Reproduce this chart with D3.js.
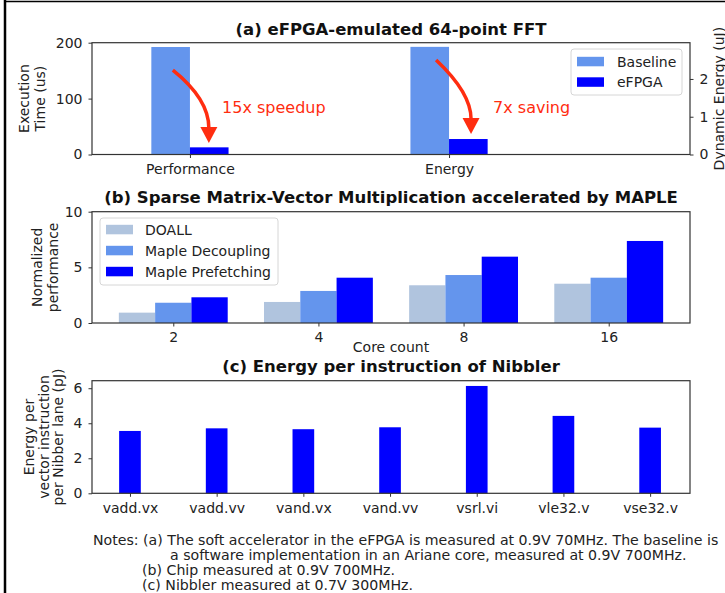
<!DOCTYPE html>
<html>
<head>
<meta charset="utf-8">
<script src="https://cdn.jsdelivr.net/npm/d3@7/dist/d3.min.js"></script>
<style>
body { margin: 0; background: #fff; }
svg text { font-family: "DejaVu Sans", sans-serif; fill: #222; }
</style>
</head>
<body>
<svg id="chart" width="725" height="593"></svg>
<script>

// (a) eFPGA FFT
var fftCategories = ["Performance", "Energy"];
var fftSeries     = ["Baseline", "eFPGA"];
var fftTime       = [192.3, 12.8];   // us, baseline / eFPGA
var fftEnergy     = [2.85, 0.41];    // uJ, baseline / eFPGA
var fftLabels     = ["15x speedup", "7x saving"];

// (b) SpMV with MAPLE
var spmvCores       = ["2", "4", "8", "16"];
var spmvSeries      = ["DOALL", "Maple Decoupling", "Maple Prefetching"];
var spmvDoall       = [0.93, 1.89, 3.39, 3.53];
var spmvDecoupling  = [1.82, 2.88, 4.31, 4.07];
var spmvPrefetching = [2.31, 4.07, 5.96, 7.37];

// (c) Nibbler
var nibblerInstr  = ["vadd.vx", "vadd.vv", "vand.vx", "vand.vv", "vsrl.vi", "vle32.v", "vse32.v"];
var nibblerEnergy = [3.56, 3.71, 3.66, 3.77, 6.13, 4.42, 3.75];

var notesLines = [
    "Notes: (a) The soft accelerator in the eFPGA is measured at 0.9V 70MHz. The baseline is",
    "a software implementation in an Ariane core, measured at 0.9V 700MHz.",
    "(b) Chip measured at 0.9V 700MHz.",
    "(c) Nibbler measured at 0.7V 300MHz."
];

var svg = d3.select("#chart");
var LEFT = 92, RIGHT = 690;
var SPINE = "#333";
var RED = "#ff2d10";
var intFmt = d3.format("d");

function styleAxis(g) {
    g.select(".domain").remove();
    g.selectAll("text").attr("font-size", 14).attr("font-family", "DejaVu Sans").style("fill", "#222");
    g.selectAll("line").attr("stroke", SPINE);
}

function frame(top, bottom) {
    svg.append("rect")
	.attr("x", LEFT).attr("y", top)
	.attr("width", RIGHT - LEFT).attr("height", bottom - top)
	.attr("fill", "none").attr("stroke", SPINE).attr("stroke-width", 1.2);
}

function title(txt, y) {
    svg.append("text")
	.attr("x", (LEFT + RIGHT) / 2).attr("y", y)
	.attr("text-anchor", "middle")
	.attr("font-size", 16.5).attr("font-weight", "bold")
	.style("fill", "#111")
	.text(txt);
}

function ylabel(lines, x, y, step) {
    var t = svg.append("text")
	.attr("transform", "translate(" + x + "," + y + ") rotate(-90)")
	.attr("text-anchor", "middle")
	.attr("font-size", 14);
    lines.forEach(function(l, i) {
	t.append("tspan").attr("x", 0).attr("y", i * step).text(l);
    });
}

function legend(x, y, w, h, names, colors, textX, rowY) {
    svg.append("rect")
	.attr("x", x).attr("y", y).attr("width", w).attr("height", h)
	.attr("rx", 3)
	.attr("fill", "#fff").attr("fill-opacity", 0.85)
	.attr("stroke", "#d6d6d6");
    names.forEach(function(n, i) {
	svg.append("rect")
	    .attr("x", x + 6).attr("y", rowY[i] - 4.7)
	    .attr("width", 27).attr("height", 9.5)
	    .attr("fill", colors[i]);
	svg.append("text")
	    .attr("x", textX).attr("y", rowY[i] + 5)
	    .attr("font-size", 14)
	    .text(n);
    });
}

// ---------- (a) ----------
var aTop = 42.7, aBot = 154.5;
var ax  = d3.scaleLinear().domain([-0.378, 1.93]).range([LEFT, RIGHT]);
var ayL = d3.scaleLinear().domain([0, 200]).range([aBot, aTop]);
var ayR = d3.scaleLinear().domain([0, 2.96]).range([aBot, aTop]);
var aW  = 0.149;

var fftRows = [
    { cat: 0, vals: fftTime,   y: ayL },
    { cat: 1, vals: fftEnergy, y: ayR }
];
var fftColors = ["#6495ED", "#0000FF"];

fftRows.forEach(function(r) {
    r.vals.forEach(function(v, s) {
	var x0 = r.cat + (s - 1) * aW;
	svg.append("rect")
	    .attr("x", ax(x0)).attr("width", ax(x0 + aW) - ax(x0))
	    .attr("y", r.y(v)).attr("height", aBot - r.y(v))
	    .attr("fill", fftColors[s]);
    });
});

svg.append("g").attr("transform", "translate(" + LEFT + ",0)")
    .call(d3.axisLeft(ayL).tickValues([0, 100, 200]).tickFormat(intFmt).tickSize(3.5).tickPadding(6))
    .call(styleAxis);
svg.append("g").attr("transform", "translate(" + RIGHT + ",0)")
    .call(d3.axisRight(ayR).tickValues([0, 1, 2]).tickFormat(intFmt).tickSize(3.5).tickPadding(6))
    .call(styleAxis);
svg.append("g").attr("transform", "translate(0," + aBot + ")")
    .call(d3.axisBottom(ax).tickValues([0, 1]).tickFormat(function(i) { return fftCategories[i]; })
	  .tickSize(3.5).tickPadding(6))
    .call(styleAxis);
frame(aTop, aBot);

// arrows: x is offset from the category, y in left-axis units
var fftArrows = [
    { start: [-0.066, 151], ctrl: [0.073, 99.3], end: [0.073, 49.2], tip: 20.6, label: [0.124, 85] },
    { start: [-0.05, 169],  ctrl: [0.085, 110],  end: [0.085, 65.3], tip: 36.7, label: [0.17, 85] }
];
fftArrows.forEach(function(a, i) {
    var p = d3.path();
    p.moveTo(ax(i + a.start[0]), ayL(a.start[1]));
    p.quadraticCurveTo(ax(i + a.ctrl[0]), ayL(a.ctrl[1]), ax(i + a.end[0]), ayL(a.end[1]) + 1);
    svg.append("path").attr("d", p.toString())
	.attr("fill", "none").attr("stroke", RED).attr("stroke-width", 3.5);
    var ex = ax(i + a.end[0]), ey = ayL(a.end[1]);
    svg.append("polygon")
	.attr("points", [[ex - 8.5, ey], [ex + 8.5, ey], [ex, ayL(a.tip)]].join(" "))
	.attr("fill", RED);
    svg.append("text")
	.attr("x", ax(i + a.label[0])).attr("y", ayL(a.label[1]) + 6)
	.attr("font-family", "Liberation Sans, Arial, sans-serif")
	.attr("font-size", 16)
	.style("fill", RED)
	.text(fftLabels[i]);
});

legend(571, 49, 111, 46, fftSeries, fftColors, 617, [61.5, 82]);
title("(a) eFPGA-emulated 64-point FFT", 35);
ylabel(["Execution", "Time (us)"], 29, (aTop + aBot) / 2, 15.5);
svg.append("text")
    .attr("transform", "translate(724," + ((aTop + aBot) / 2) + ") rotate(-90)")
    .attr("text-anchor", "middle").attr("font-size", 14)
    .text("Dynamic Energy (uJ)");

// ---------- (b) ----------
var bTop = 211.7, bBot = 323;
var bx = d3.scaleLinear().domain([-0.56, 3.56]).range([LEFT, RIGHT]);
var by = d3.scaleLinear().domain([0, 10]).range([bBot, bTop]);
var bW = 0.25;
var spmvData   = [spmvDoall, spmvDecoupling, spmvPrefetching];
var spmvColors = ["#B0C4DE", "#6495ED", "#0000FF"];

spmvData.forEach(function(vals, s) {
    svg.append("g").selectAll("rect")
	.data(vals)
	.enter()
	.append("rect")
	.attr("x", function(d, i) { return bx(i + (s - 1.5) * bW); })
	.attr("width", bx(bW) - bx(0))
	.attr("y", function(d) { return by(d); })
	.attr("height", function(d) { return bBot - by(d); })
	.attr("fill", spmvColors[s]);
});

svg.append("g").attr("transform", "translate(" + LEFT + ",0)")
    .call(d3.axisLeft(by).tickValues([0, 5, 10]).tickFormat(intFmt).tickSize(3.5).tickPadding(6))
    .call(styleAxis);
svg.append("g").attr("transform", "translate(0," + bBot + ")")
    .call(d3.axisBottom(bx).tickValues([0, 1, 2, 3]).tickFormat(function(i) { return spmvCores[i]; })
	  .tickSize(3.5).tickPadding(6))
    .call(styleAxis);
frame(bTop, bBot);

legend(100, 218, 178, 67, spmvSeries, spmvColors, 145, [229.5, 250.5, 271.5]);
title("(b) Sparse Matrix-Vector Multiplication accelerated by MAPLE", 203);
ylabel(["Normalized", "performance"], 42, (bTop + bBot) / 2, 15.5);
svg.append("text")
    .attr("x", (LEFT + RIGHT) / 2).attr("y", 352)
    .attr("text-anchor", "middle").attr("font-size", 14)
    .text("Core count");

// ---------- (c) ----------
var cTop = 380.7, cBot = 493.3;
var cx = d3.scaleLinear().domain([-0.438, 6.46]).range([LEFT, RIGHT]);
var cy = d3.scaleLinear().domain([0, 6.43]).range([cBot, cTop]);
var cW = 0.25;

svg.append("g").selectAll("rect")
    .data(nibblerEnergy)
    .enter()
    .append("rect")
    .attr("x", function(d, i) { return cx(i - cW / 2); })
    .attr("width", cx(cW) - cx(0))
    .attr("y", function(d) { return cy(d); })
    .attr("height", function(d) { return cBot - cy(d); })
    .attr("fill", "#0000FF");

svg.append("g").attr("transform", "translate(" + LEFT + ",0)")
    .call(d3.axisLeft(cy).tickValues([0, 2, 4, 6]).tickFormat(intFmt).tickSize(3.5).tickPadding(6))
    .call(styleAxis);
svg.append("g").attr("transform", "translate(0," + cBot + ")")
    .call(d3.axisBottom(cx).tickValues(d3.range(nibblerInstr.length)).tickFormat(function(i) { return nibblerInstr[i]; })
	  .tickSize(3.5).tickPadding(6))
    .call(styleAxis);
frame(cTop, cBot);

title("(c) Energy per instruction of Nibbler", 372);
ylabel(["Energy per", "vector instruction", "per Nibber lane (pJ)"], 34, (cTop + cBot) / 2, 14.5);

// ---------- notes ----------
var notesX = [93, 170, 142, 142];
var notesY = [545, 560, 575, 590];
var noteText = notesLines.map(function(l, i) {
    return svg.append("text")
	.attr("font-size", 14)
	.attr("transform", "translate(" + notesX[i] + "," + notesY[i] + ")")
	.text(l);
});
var squeeze = 626 / noteText[0].node().getComputedTextLength();
noteText.forEach(function(t, i) {
    t.attr("transform", "translate(" + notesX[i] + "," + notesY[i] + ") scale(" + squeeze + ",1)");
});

// outer border (left / top edge of the original figure)
svg.append("line").attr("x1", 5).attr("y1", 0).attr("x2", 5).attr("y2", 593)
    .attr("stroke", "#000").attr("stroke-width", 2.5);
svg.append("line").attr("x1", 4).attr("y1", 1.5).attr("x2", 725).attr("y2", 1.5)
    .attr("stroke", "#000").attr("stroke-width", 1.6);

</script>
</body>
</html>
